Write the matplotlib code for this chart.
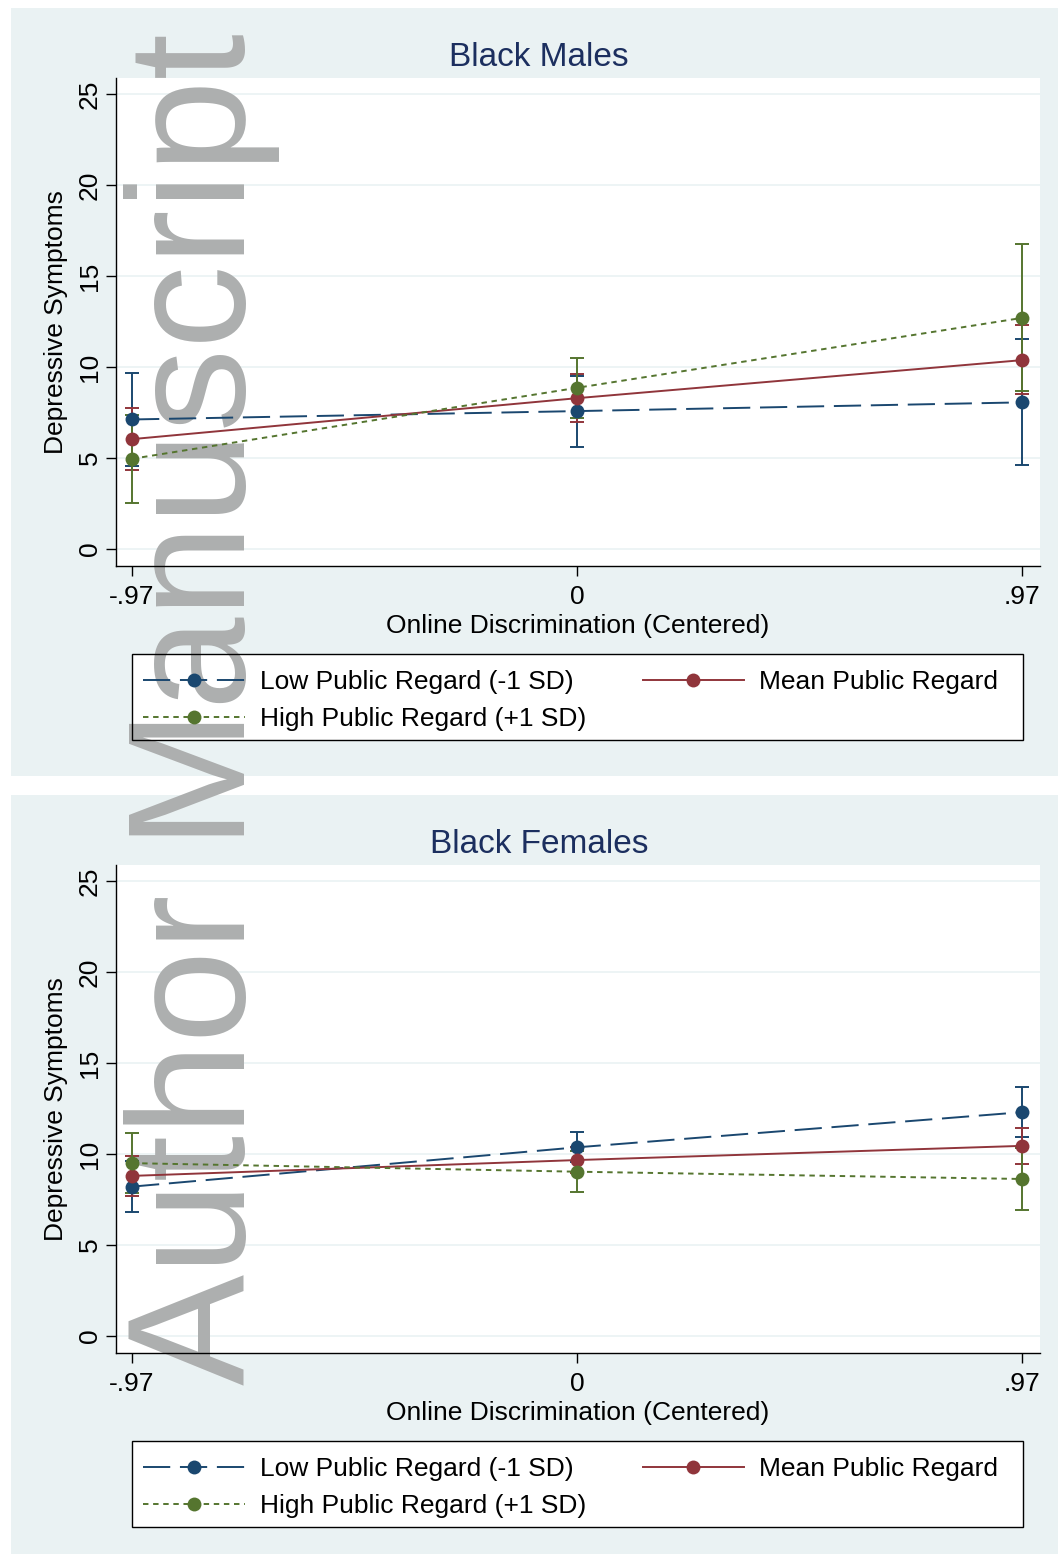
import matplotlib.pyplot as plt
from matplotlib.patches import Rectangle
from matplotlib.lines import Line2D

plt.rcParams['font.family'] = ['Liberation Sans', 'DejaVu Sans']

# predicted depressive symptoms (with 95% CI) by online discrimination,
# at low / mean / high public regard
disc = [-0.97, 0.0, 0.97]
disc_labels = ['-.97', '0', '.97']
y_ticks = [0, 5, 10, 15, 20, 25]
series_names = ['Low Public Regard (-1 SD)', 'Mean Public Regard',
                'High Public Regard (+1 SD)']

male_low = [7.12, 7.58, 8.06]
male_low_lo = [4.54, 5.62, 4.60]
male_low_hi = [9.70, 9.53, 11.52]
male_mean = [6.04, 8.29, 10.38]
male_mean_lo = [4.32, 7.00, 8.50]
male_mean_hi = [7.77, 9.60, 12.30]
male_high = [4.96, 8.86, 12.70]
male_high_lo = [2.55, 7.22, 8.68]
male_high_hi = [7.37, 10.50, 16.74]

female_low = [8.21, 10.37, 12.30]
female_low_lo = [6.80, 9.55, 10.92]
female_low_hi = [9.62, 11.19, 13.70]
female_mean = [8.80, 9.67, 10.45]
female_mean_lo = [7.68, 8.95, 9.47]
female_mean_hi = [9.92, 10.40, 11.45]
female_high = [9.50, 9.03, 8.63]
female_high_lo = [7.85, 7.90, 6.92]
female_high_hi = [11.15, 10.16, 10.34]

W, H = 1058, 1554
BG = '#eaf2f3'
COLORS = ['#1a476f', '#90353b', '#55752f']
DASHES = [(14, 5), (None, None), (2.8, 2.4)]
FS = 19


def fx(px):
    return px / W


def fy(py):
    return 1 - py / H


def fig_rect(fig, x0, y0, x1, y1, z, face, edge='none', lw=0):
    r = Rectangle((fx(x0), fy(y1)), fx(x1) - fx(x0), fy(y0) - fy(y1),
                  transform=fig.transFigure, facecolor=face,
                  edgecolor=edge, linewidth=lw, zorder=z)
    fig.patches.append(r)


def style_line(dash):
    if dash[0] is None:
        return dict(linestyle='-')
    return dict(dashes=dash)


def draw_panel(fig, off, title, groups):
    # panel background, white plot area and legend box
    fig_rect(fig, 11, 8 + off, W, 776 + off, 0, BG)
    fig_rect(fig, 116, 78 + off, 1040, 566 + off, 0.2, 'white')
    fig_rect(fig, 132, 654 + off, 1023, 740 + off, 0.2, 'white')
    fig_rect(fig, 132, 654 + off, 1023, 740 + off, 1.5, 'none', 'black', 1.0)

    rect = [fx(116), fy(566 + off), fx(1040) - fx(116), fy(78) - fy(566)]

    # gridlines live on their own axes so the watermark sits over them
    gax = fig.add_axes(rect, zorder=0.3)
    gax.set_xlim(-1.005, 1.009)
    gax.set_ylim(-0.93, 25.88)
    gax.set_facecolor('none')
    for v in y_ticks:
        gax.axhline(v, color=BG, lw=1.2)
    gax.axis('off')

    ax = fig.add_axes(rect, zorder=1)
    ax.set_facecolor('none')
    ax.set_xlim(-1.005, 1.009)
    ax.set_ylim(-0.93, 25.88)

    for (vals, lo, hi), c in zip(groups, COLORS):
        err = [[v - l for v, l in zip(vals, lo)],
               [h - v for v, h in zip(vals, hi)]]
        ax.errorbar(disc, vals, yerr=err, fmt='none', ecolor=c,
                    elinewidth=1.4, capsize=4.7, capthick=1.4, zorder=2)
    for (vals, lo, hi), c, d in zip(groups, COLORS, DASHES):
        ax.plot(disc, vals, color=c, lw=1.4, zorder=3, **style_line(d))
    for (vals, lo, hi), c in zip(groups, COLORS):
        ax.plot(disc, vals, 'o', color=c, ms=10, mew=0, zorder=4)

    for s in ['top', 'right']:
        ax.spines[s].set_visible(False)
    for s in ['left', 'bottom']:
        ax.spines[s].set_linewidth(1.0)
    ax.set_xticks(disc)
    ax.set_xticklabels(disc_labels)
    ax.set_yticks(y_ticks)
    ax.set_yticklabels([str(v) for v in y_ticks])
    ax.tick_params(length=7, width=1.0, labelsize=FS)
    ax.tick_params(axis='x', pad=6.5)
    ax.tick_params(axis='y', labelrotation=90, pad=3)
    for t in ax.get_yticklabels():
        t.set_va('center')

    ax.set_xlabel('Online Discrimination (Centered)', fontsize=FS)
    ax.xaxis.set_label_coords(0.5, -0.099)
    ax.set_ylabel('Depressive Symptoms', fontsize=FS)
    ax.yaxis.set_label_coords(-0.052, 0.5)

    fig.text(fx(539), fy(66 + off), title, ha='center', va='baseline',
             fontsize=24, color='#1c2f5f')

    handles = []
    for c, d in zip(COLORS, DASHES):
        handles.append(Line2D([], [], color=c, lw=1.4, marker='o', ms=10,
                              mew=0, **style_line(d)))
    order = [0, 2, 1]
    ax.legend([handles[i] for i in order],
              [series_names[i] for i in order],
              ncol=2, loc='upper left',
              bbox_to_anchor=(fx(143), fy(670 + off)),
              bbox_transform=fig.transFigure, frameon=False,
              fontsize=FS, handlelength=3.85, handletextpad=0.57,
              labelspacing=0.5, columnspacing=2.15, borderpad=0,
              borderaxespad=0)
    return ax


fig = plt.figure(figsize=(W / 100, H / 100), dpi=100)
fig.patch.set_facecolor('white')

draw_panel(fig, 0, 'Black Males',
           [(male_low, male_low_lo, male_low_hi),
            (male_mean, male_mean_lo, male_mean_hi),
            (male_high, male_high_lo, male_high_hi)])
draw_panel(fig, 787, 'Black Females',
           [(female_low, female_low_lo, female_low_hi),
            (female_mean, female_mean_lo, female_mean_hi),
            (female_high, female_high_lo, female_high_hi)])

fig.text(fx(245), fy(1385), 'Author Manuscript', rotation=90,
         rotation_mode='anchor', ha='left', va='baseline', fontsize=120,
         color='#adafaf', zorder=0.5)

fig.savefig('out.png', dpi=100)
